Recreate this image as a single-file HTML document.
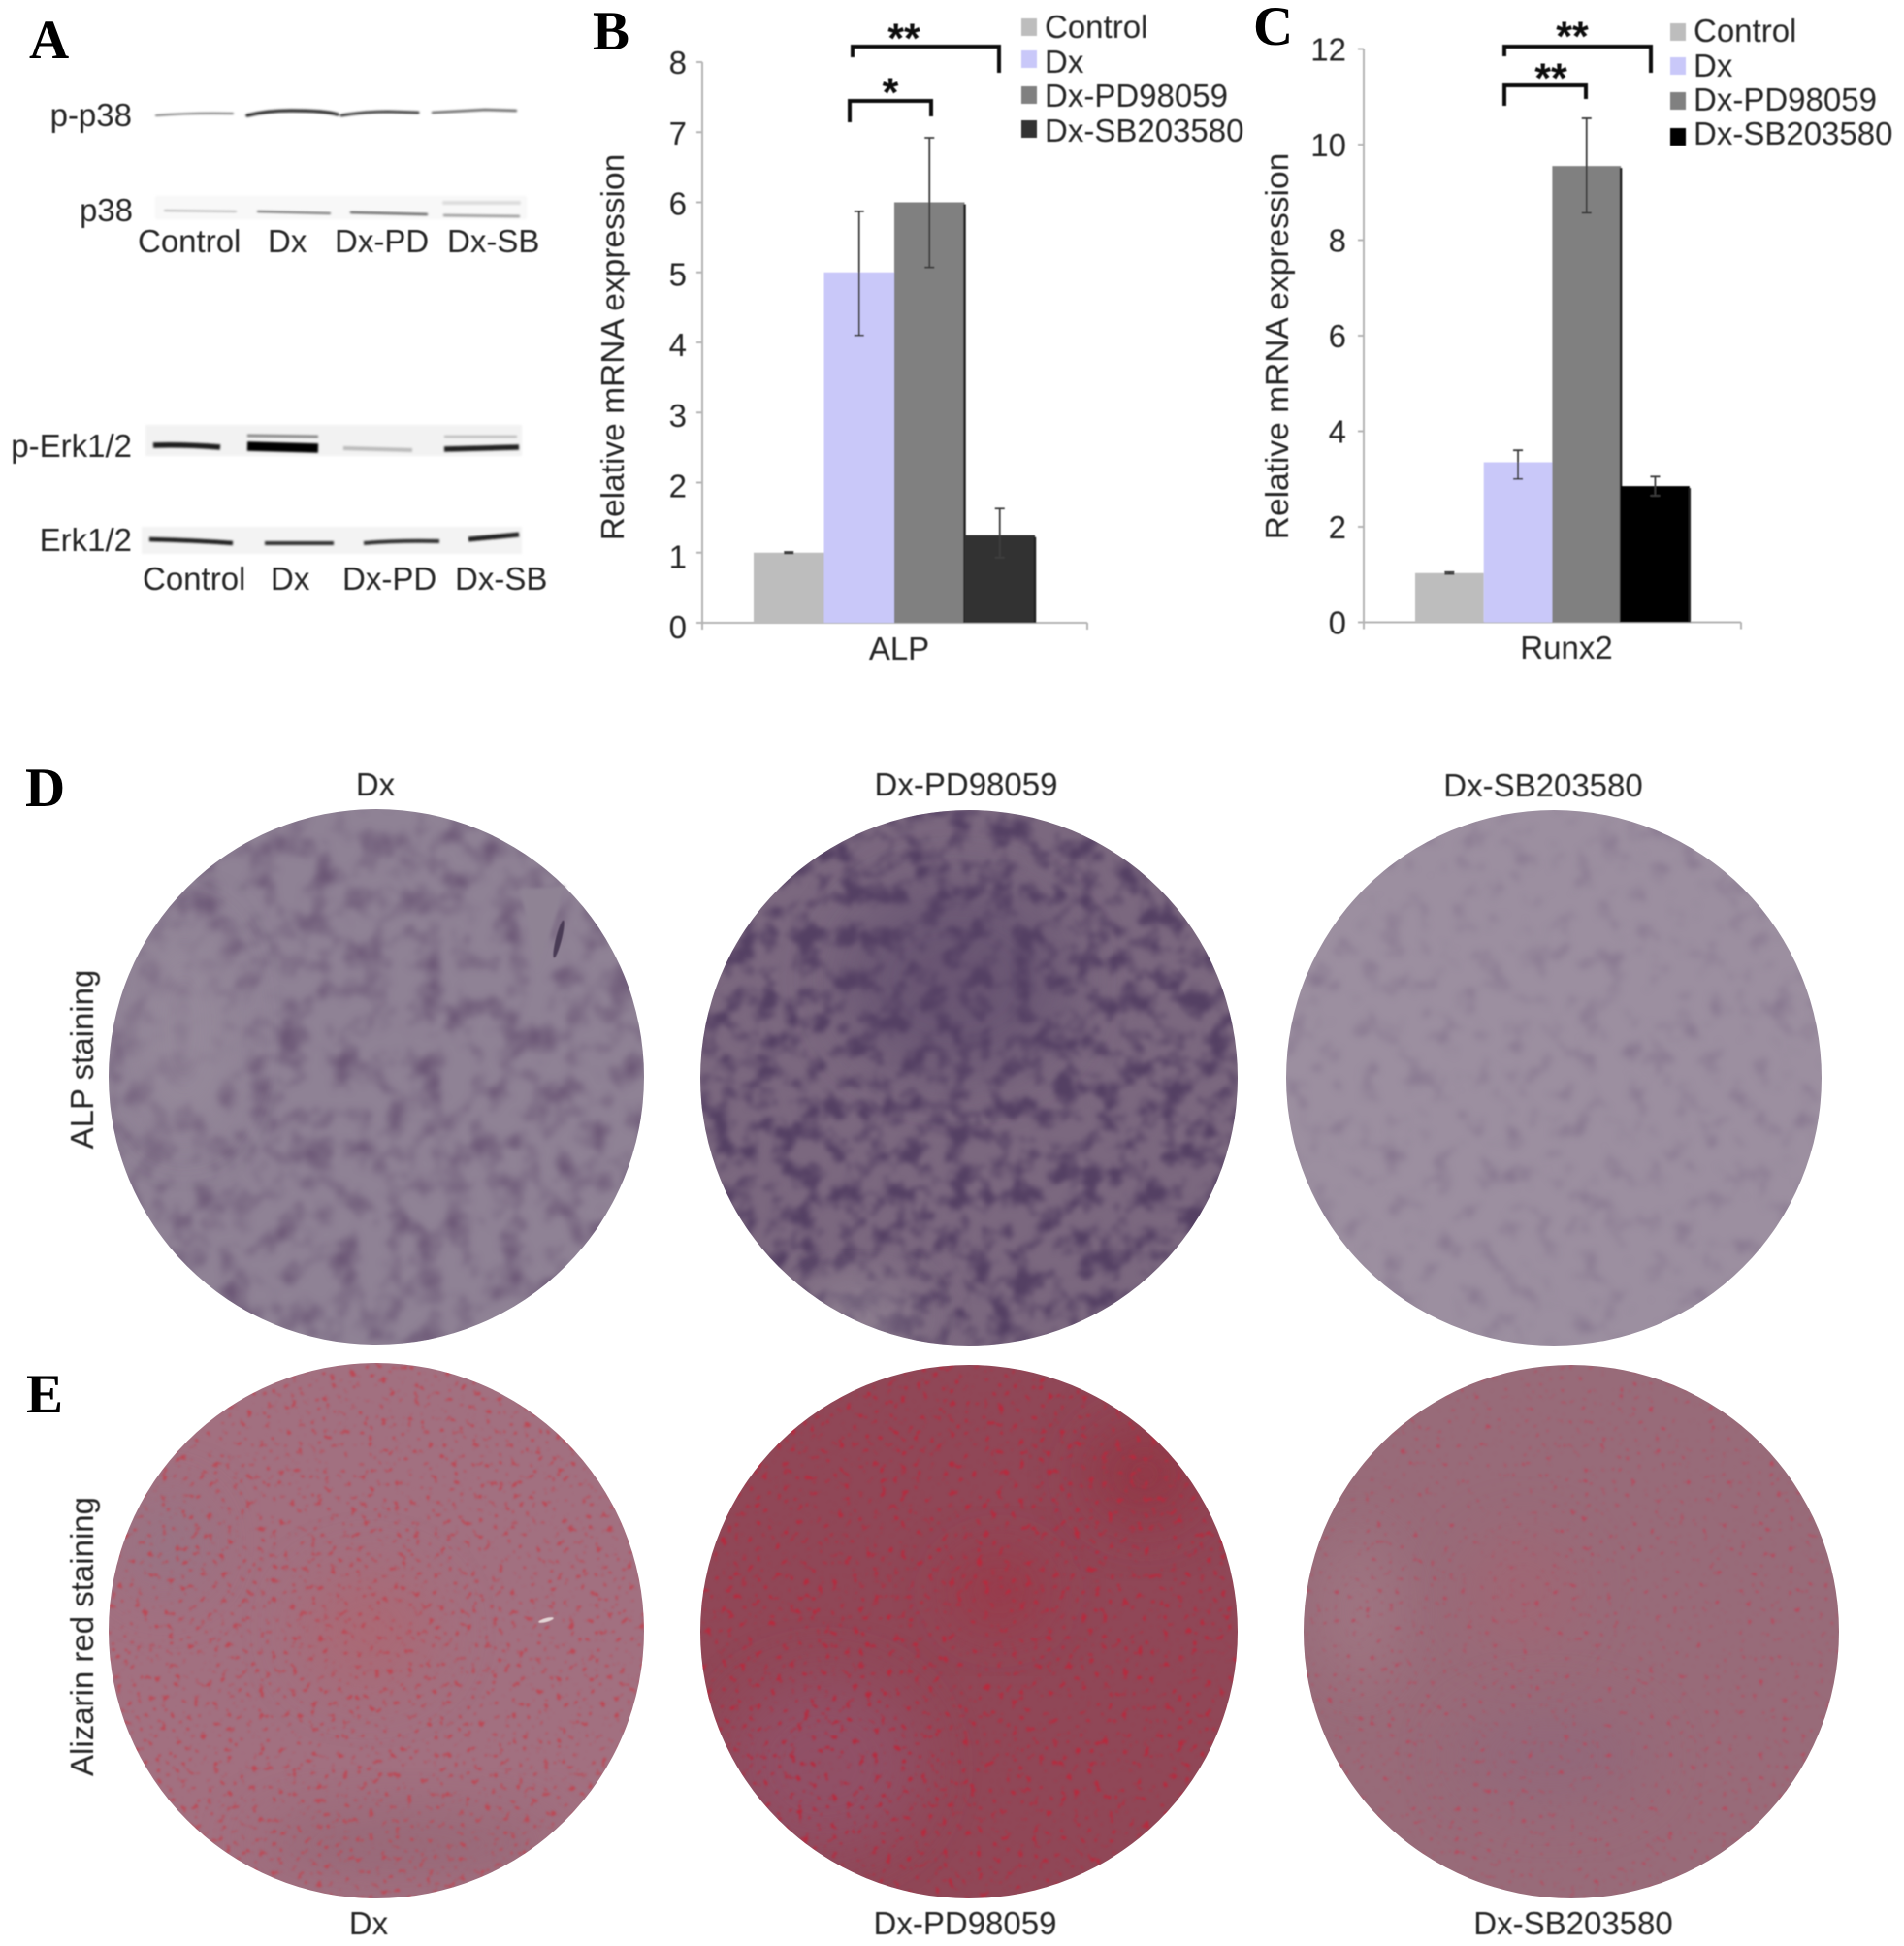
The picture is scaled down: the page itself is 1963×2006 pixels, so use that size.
<!DOCTYPE html>
<html lang="en">
<head>
<meta charset="utf-8">
<title>MAPK inhibitors, gene expression and staining</title>
<style>
html,body{margin:0;padding:0;background:#fff;}
svg{display:block;}
text{font-family:"Liberation Sans",sans-serif;font-size:33px;fill:#262626;}
.letter{font-family:"Liberation Serif",serif;font-weight:bold;font-size:57px;fill:#000;}
.star{font-family:"Liberation Sans",sans-serif;font-weight:bold;font-size:43px;fill:#111;}
</style>
</head>
<body>
<svg id="fig" xmlns="http://www.w3.org/2000/svg" width="1963" height="2006" viewBox="0 0 1963 2006">
<defs>
<filter id="soft" x="-5%" y="-5%" width="110%" height="110%"><feGaussianBlur stdDeviation="0.6"/></filter>
<filter id="soft2" x="-20%" y="-20%" width="140%" height="140%"><feGaussianBlur stdDeviation="1.5"/></filter>
<filter id="band" x="-5%" y="-200%" width="110%" height="500%"><feGaussianBlur stdDeviation="1.1"/></filter>
<filter id="wide" x="-60%" y="-60%" width="220%" height="220%"><feGaussianBlur stdDeviation="30"/></filter>
<filter id="stainD1" x="0" y="0" width="1" height="1" color-interpolation-filters="sRGB">
<feTurbulence type="fractalNoise" baseFrequency="0.035" numOctaves="3" seed="4"/>
<feColorMatrix values="0 0 0 0 .42 0 0 0 0 .34 0 0 0 0 .46 2.6 0 0 0 -1.15"/>
<feGaussianBlur stdDeviation="3"/>
<feComposite in2="SourceGraphic" operator="in"/>
</filter>
<filter id="stainD2" x="0" y="0" width="1" height="1" color-interpolation-filters="sRGB">
<feTurbulence type="fractalNoise" baseFrequency="0.045" numOctaves="3" seed="11"/>
<feColorMatrix values="0 0 0 0 .33 0 0 0 0 .25 0 0 0 0 .39 3.4 0 0 0 -1.45"/>
<feGaussianBlur stdDeviation="2.5"/>
<feComposite in2="SourceGraphic" operator="in"/>
</filter>
<filter id="stainD3" x="0" y="0" width="1" height="1" color-interpolation-filters="sRGB">
<feTurbulence type="fractalNoise" baseFrequency="0.04" numOctaves="3" seed="21"/>
<feColorMatrix values="0 0 0 0 .48 0 0 0 0 .41 0 0 0 0 .52 1.8 0 0 0 -.95"/>
<feGaussianBlur stdDeviation="3"/>
<feComposite in2="SourceGraphic" operator="in"/>
</filter>
<filter id="spotsE1" x="0" y="0" width="1" height="1" color-interpolation-filters="sRGB">
<feTurbulence type="fractalNoise" baseFrequency="0.15" numOctaves="2" seed="5"/>
<feColorMatrix values="0 0 0 0 .74 0 0 0 0 .28 0 0 0 0 .33 7 0 0 0 -4.35"/>
<feGaussianBlur stdDeviation="1"/>
<feComposite in2="SourceGraphic" operator="in"/>
</filter>
<filter id="spotsE2" x="0" y="0" width="1" height="1" color-interpolation-filters="sRGB">
<feTurbulence type="fractalNoise" baseFrequency="0.14" numOctaves="2" seed="9"/>
<feColorMatrix values="0 0 0 0 .72 0 0 0 0 .16 0 0 0 0 .24 7 0 0 0 -4.3"/>
<feGaussianBlur stdDeviation="1"/>
<feComposite in2="SourceGraphic" operator="in"/>
</filter>
<filter id="spotsE3" x="0" y="0" width="1" height="1" color-interpolation-filters="sRGB">
<feTurbulence type="fractalNoise" baseFrequency="0.16" numOctaves="2" seed="15"/>
<feColorMatrix values="0 0 0 0 .72 0 0 0 0 .28 0 0 0 0 .36 6 0 0 0 -3.95"/>
<feGaussianBlur stdDeviation="1"/>
<feComposite in2="SourceGraphic" operator="in"/>
</filter>
<clipPath id="cD1"><ellipse cx="388" cy="1110" rx="276" ry="276"/></clipPath>
<clipPath id="cD2"><ellipse cx="999" cy="1111" rx="277" ry="276"/></clipPath>
<clipPath id="cD3"><ellipse cx="1602" cy="1111" rx="276" ry="276"/></clipPath>
<clipPath id="cE1"><ellipse cx="388" cy="1681" rx="276" ry="276"/></clipPath>
<clipPath id="cE2"><ellipse cx="999" cy="1682" rx="277" ry="275"/></clipPath>
<clipPath id="cE3"><ellipse cx="1620" cy="1682" rx="276" ry="275"/></clipPath>
</defs>

<g>
<text class="letter" x="30" y="60">A</text>
<text class="letter" x="611" y="51">B</text>
<text class="letter" x="1292" y="46">C</text>
<text class="letter" x="26" y="831">D</text>
<text class="letter" x="27" y="1456">E</text>
</g>

<g>
<g filter="url(#soft)">
<text x="136" y="130" text-anchor="end">p-p38</text>
<text x="137" y="228" text-anchor="end">p38</text>
<text x="142" y="260">Control</text>
<text x="276" y="260">Dx</text>
<text x="345" y="260">Dx-PD</text>
<text x="461" y="260">Dx-SB</text>
<text x="136" y="471" text-anchor="end">p-Erk1/2</text>
<text x="136" y="568" text-anchor="end">Erk1/2</text>
<text x="147" y="608">Control</text>
<text x="279" y="608">Dx</text>
<text x="353" y="608">Dx-PD</text>
<text x="469" y="608">Dx-SB</text>
</g>
<g fill="none" stroke-linecap="round" filter="url(#band)">
<path d="M161 119 Q200 116 240 117" stroke="#777" stroke-width="2"/>
<path d="M255 119 Q275 114 300 114 Q335 114 348 118" stroke="#333" stroke-width="3.5"/>
<path d="M352 119 Q375 115 400 115 L431 116" stroke="#444" stroke-width="3"/>
<path d="M446 116 Q480 114 500 113 L532 114" stroke="#666" stroke-width="2.5"/>
</g>
<g>
<rect x="160" y="202" width="383" height="24" fill="#f8f8f8" filter="url(#band)"/>
<g fill="none" stroke-linecap="round" filter="url(#band)">
<path d="M170 217 L243 218" stroke="#bbb" stroke-width="2"/>
<path d="M266 218 L340 220" stroke="#777" stroke-width="2.2"/>
<path d="M362 219 L440 221" stroke="#666" stroke-width="2.5"/>
<path d="M458 222 L535 223" stroke="#999" stroke-width="2.5"/>
<path d="M458 209 L535 209" stroke="#ddd" stroke-width="4"/>
</g>
</g>
<g>
<rect x="150" y="438" width="388" height="32" fill="#f2f2f2" filter="url(#band)"/>
<g fill="none" filter="url(#band)">
<path d="M158 459 Q190 458 227 461" stroke="#1c1c1c" stroke-width="5.5"/>
<path d="M255 449 L328 450" stroke="#888" stroke-width="3"/>
<path d="M255 460 L328 462" stroke="#050505" stroke-width="9.5"/>
<path d="M354 462 L425 464" stroke="#bbb" stroke-width="4"/>
<path d="M458 450 L533 450" stroke="#bbb" stroke-width="2.5"/>
<path d="M458 463 L535 461" stroke="#222" stroke-width="5.5"/>
</g>
</g>
<g>
<rect x="146" y="543" width="392" height="28" fill="#f3f3f3" filter="url(#band)"/>
<g fill="none" filter="url(#band)">
<path d="M154 556 Q200 557 240 560" stroke="#222" stroke-width="4.5"/>
<path d="M273 560 L344 560" stroke="#333" stroke-width="4"/>
<path d="M375 560 Q410 557 453 558" stroke="#333" stroke-width="4"/>
<path d="M483 556 L535 551" stroke="#222" stroke-width="5"/>
</g>
</g>
</g>

<g id="chart-b" filter="url(#soft)"></g>
<g id="chart-c" filter="url(#soft)"></g>

<g>
<g>
<ellipse cx="388" cy="1110" rx="276" ry="276" fill="#8f8295"/>
<g clip-path="url(#cD1)">
<rect x="112" y="834" width="552" height="552" fill="#000" filter="url(#stainD1)"/>
<ellipse cx="190" cy="1060" rx="45" ry="110" fill="#9a8e9e" opacity=".75" filter="url(#wide)"/>
</g>
<path d="M536 917 L583 913 L554 1001 Z" fill="#8f8394" filter="url(#soft2)"/>
<ellipse cx="576" cy="968" rx="3" ry="20" fill="#4a3a55" transform="rotate(14 576 968)" filter="url(#soft)"/>
</g>
<g>
<ellipse cx="999" cy="1111" rx="277" ry="276" fill="#7b687f"/>
<g clip-path="url(#cD2)">
<ellipse cx="985" cy="1010" rx="120" ry="100" fill="#5f4c6c" opacity=".6" filter="url(#wide)"/>
<rect x="722" y="835" width="554" height="552" fill="#000" filter="url(#stainD2)"/>
<ellipse cx="885" cy="1355" rx="60" ry="30" fill="#a297a2" opacity=".7" filter="url(#wide)"/>
</g>
</g>
<g>
<ellipse cx="1602" cy="1111" rx="276" ry="276" fill="#9c8fa0"/>
<g clip-path="url(#cD3)">
<rect x="1326" y="835" width="552" height="552" fill="#000" filter="url(#stainD3)"/>
</g>
</g>
</g>

<g>
<g>
<ellipse cx="388" cy="1681" rx="276" ry="276" fill="#a27080"/>
<g clip-path="url(#cE1)">
<ellipse cx="170" cy="1590" rx="45" ry="50" fill="#937686" opacity=".7" filter="url(#wide)"/>
<ellipse cx="380" cy="1680" rx="70" ry="60" fill="#b0656e" opacity=".6" filter="url(#wide)"/>
<ellipse cx="420" cy="1900" rx="160" ry="35" fill="#8d6270" opacity=".5" filter="url(#wide)"/>
<rect x="112" y="1405" width="552" height="552" fill="#000" filter="url(#spotsE1)"/>
</g>
<ellipse cx="563" cy="1670" rx="8" ry="2" fill="#e4d6d6" transform="rotate(-15 563 1670)" filter="url(#soft)"/>
</g>
<g>
<ellipse cx="999" cy="1682" rx="277" ry="275" fill="#904757"/>
<g clip-path="url(#cE2)">
<ellipse cx="1180" cy="1520" rx="60" ry="50" fill="#93303f" opacity=".7" filter="url(#wide)"/>
<ellipse cx="850" cy="1820" rx="100" ry="90" fill="#91536a" opacity=".8" filter="url(#wide)"/>
<ellipse cx="1030" cy="1640" rx="50" ry="40" fill="#a03040" opacity=".6" filter="url(#wide)"/>
<rect x="722" y="1407" width="554" height="550" fill="#000" filter="url(#spotsE2)"/>
</g>
</g>
<g>
<ellipse cx="1620" cy="1682" rx="276" ry="275" fill="#986b79"/>
<g clip-path="url(#cE3)">
<ellipse cx="1400" cy="1660" rx="40" ry="80" fill="#a37a86" opacity=".7" filter="url(#wide)"/>
<ellipse cx="1600" cy="1810" rx="100" ry="50" fill="#8f667a" opacity=".6" filter="url(#wide)"/>
<ellipse cx="1570" cy="1640" rx="60" ry="60" fill="#a86270" opacity=".45" filter="url(#wide)"/>
<rect x="1344" y="1407" width="552" height="550" fill="#000" filter="url(#spotsE3)"/>
</g>
</g>
</g>

<g filter="url(#soft)">
<text x="387" y="820" text-anchor="middle">Dx</text>
<text x="996" y="820" text-anchor="middle">Dx-PD98059</text>
<text x="1591" y="821" text-anchor="middle">Dx-SB203580</text>
<text transform="translate(96 1092) rotate(-90)" text-anchor="middle">ALP staining</text>
<text transform="translate(96 1687) rotate(-90)" text-anchor="middle">Alizarin red staining</text>
<text x="380" y="1994" text-anchor="middle">Dx</text>
<text x="995" y="1994" text-anchor="middle">Dx-PD98059</text>
<text x="1622" y="1994" text-anchor="middle">Dx-SB203580</text>
</g>
</svg>

<script>
var seriesNames = ['Control', 'Dx', 'Dx-PD98059', 'Dx-SB203580'];
var alpValues = [1, 5, 6, 1.25];
var alpErrorHigh = [1.01, 5.87, 6.92, 1.63];
var alpErrorLow = [0.99, 4.1, 5.07, 0.93];
var alpTicks = [0, 1, 2, 3, 4, 5, 6, 7, 8];
var alpColors = ['#bdbdbd', '#c9c8f9', '#808080', '#333333'];
var runxValues = [1.03, 3.35, 9.55, 2.85];
var runxErrorHigh = [1.05, 3.6, 10.55, 3.05];
var runxErrorLow = [1.01, 3.0, 8.57, 2.65];
var runxTicks = [0, 2, 4, 6, 8, 10, 12];
var runxColors = ['#bdbdbd', '#c9c8f9', '#808080', '#000000'];

var NS = 'http://www.w3.org/2000/svg';

function make(parent, tag, attrs, txt) {
  var e = document.createElementNS(NS, tag);
  for (var k in attrs) { e.setAttribute(k, attrs[k]); }
  if (txt !== undefined) { e.textContent = txt; }
  parent.appendChild(e);
  return e;
}

function drawChart(root, o) {
  var yMax = o.ticks[o.ticks.length - 1];
  function y(v) { return o.y0 - v * (o.y0 - o.yTop) / yMax; }
  function xBand(i) { return o.barX + i * o.barW; }

  var axisY = make(root, 'line', {x1: o.axisX, x2: o.axisX, y1: o.yTop, y2: o.y0, stroke: '#b4b4b4', 'stroke-width': 2});
  
  
  var axisX = make(root, 'line', {x1: o.axisX, x2: o.axisEnd, y1: o.y0, y2: o.y0, stroke: '#b4b4b4', 'stroke-width': 2});
  
  
  var tickEnd = make(root, 'line', {x1: o.axisEnd, x2: o.axisEnd, y1: o.y0, y2: o.y0 + 7, stroke: '#b4b4b4', 'stroke-width': 2});
  
  
  var tickStart = make(root, 'line', {x1: o.axisX, x2: o.axisX, y1: o.y0, y2: o.y0 + 7, stroke: '#b4b4b4', 'stroke-width': 2});
  
  

  o.ticks.forEach(function (t) {
    var tick = make(root, 'line', {x1: o.axisX - 6, x2: o.axisX, y1: y(t), y2: y(t), stroke: '#b4b4b4', 'stroke-width': 2});
    
    
    var lab = make(root, 'text', {x: o.tickRight, y: y(t) + 12 + o.labelDrift * (yMax - t) / yMax, 'text-anchor': 'end'}, String(t));
    
    
  });

  o.values.forEach(function (v, i) {
    var bar = make(root, 'rect', {x: xBand(i), y: y(v), width: o.barW, height: o.y0 - y(v), fill: o.colors[i]});
    
    
    if (i >= 2) {
      var edge = make(root, 'line', {x1: xBand(i) + o.barW, x2: xBand(i) + o.barW, y1: y(v) + 2, y2: o.y0, stroke: '#222', 'stroke-width': 2.5});
      
      
    }
  });

  o.values.forEach(function (v, i) {
    var cx = xBand(i) + o.barW / 2;
    var err = make(root, 'path', {
      d: 'M' + (cx - 5) + ' ' + y(o.high[i]) + 'H' + (cx + 5) + 'M' + cx + ' ' + y(o.high[i]) + 'V' + y(o.low[i]) + 'M' + (cx - 5) + ' ' + y(o.low[i]) + 'H' + (cx + 5),
      fill: 'none', stroke: '#3c3c3c', 'stroke-width': 1.8
    });
    
    
  });

  var title = make(root, 'text', {transform: 'translate(' + o.titleX + ' ' + o.titleY + ') rotate(-90)', 'text-anchor': 'middle', style: 'font-size:33.5px'}, 'Relative mRNA expression');
  
  
  var cat = make(root, 'text', {x: o.catX, y: o.catY, 'text-anchor': 'middle'}, o.category);
  
  

  seriesNames.forEach(function (n, i) {
    var sw = make(root, 'rect', {x: o.legendX, y: o.legendY[i] - 9, width: 16, height: 18, fill: o.colors[i]});
    
    
    var lt = make(root, 'text', {x: o.legendTextX, y: o.legendTextY[i]}, n);
    
    
  });

  o.brackets.forEach(function (b) {
    var br = make(root, 'path', {d: 'M' + b.x1 + ' ' + b.l1 + 'V' + b.y + 'H' + b.x2 + 'V' + b.l2, fill: 'none', stroke: '#111', 'stroke-width': 4});
    
    
    var st = make(root, 'text', {x: b.sx, y: b.sy, 'text-anchor': 'middle', 'class': 'star'}, b.s);
    
    
  });
}

drawChart(document.getElementById('chart-b'), {
  ticks: alpTicks, values: alpValues, high: alpErrorHigh, low: alpErrorLow, colors: alpColors,
  category: 'ALP', axisX: 724, axisEnd: 1121, y0: 642, yTop: 64, barX: 777, barW: 72.5,
  tickRight: 708, titleX: 643, titleY: 358, catX: 927, catY: 680, labelDrift: 4,
  legendX: 1053, legendTextX: 1077, legendY: [28, 61, 98, 133], legendTextY: [39, 75, 110, 146],
  brackets: [
    {x1: 879, x2: 1030, y: 48, l1: 59, l2: 75, sx: 932, sy: 54, s: '**'},
    {x1: 876, x2: 960, y: 104, l1: 126, l2: 120, sx: 918, sy: 110, s: '*'}
  ]
});

drawChart(document.getElementById('chart-c'), {
  ticks: runxTicks, values: runxValues, high: runxErrorHigh, low: runxErrorLow, colors: runxColors,
  category: 'Runx2', axisX: 1406, axisEnd: 1795, y0: 641.5, yTop: 50.5, barX: 1459, barW: 70.7,
  tickRight: 1388, titleX: 1328, titleY: 357, catX: 1615, catY: 679, labelDrift: 0,
  legendX: 1722, legendTextX: 1746, legendY: [33, 68, 104, 141], legendTextY: [43, 79, 114, 149],
  brackets: [
    {x1: 1551, x2: 1702, y: 48, l1: 58, l2: 75, sx: 1621, sy: 52, s: '**'},
    {x1: 1551, x2: 1635, y: 88, l1: 109, l2: 102, sx: 1599, sy: 95, s: '**'}
  ]
});
</script>
</body>
</html>
